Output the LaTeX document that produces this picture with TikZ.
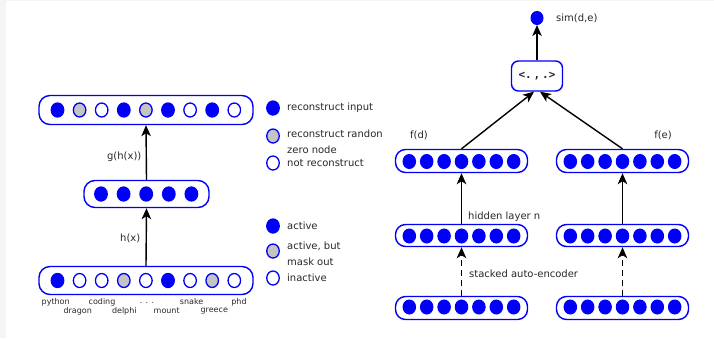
\documentclass[tikz,border=0pt]{standalone}
\usepackage{fontspec}
\setmainfont{DejaVu Sans}
\newfontfamily\monofont{DejaVu Sans Mono}
\usetikzlibrary{shapes.geometric,arrows.meta}
\definecolor{unitblue}{RGB}{0,0,250}
\definecolor{maskgrey}{RGB}{196,196,196}
\definecolor{labelgrey}{RGB}{40,40,40}
\begin{document}
\begin{tikzpicture}[x=1pt,y=-1pt,
  layer/.style={draw=unitblue,line width=1.4pt,fill=white,rounded corners=11pt,inner sep=0pt},
  unit/.style={ellipse,draw=unitblue,line width=1.3pt,inner sep=0pt,minimum width=12.5pt,minimum height=14pt},
  uon/.style={unit,fill=unitblue},
  ugrey/.style={unit,fill=maskgrey},
  uoff/.style={unit,fill=white},
  sunit/.style={ellipse,draw=unitblue,fill=unitblue,line width=1pt,inner sep=0pt,minimum width=12.5pt,minimum height=14pt},
  lbl/.style={text=labelgrey,font=\fontsize{10}{11}\selectfont,inner sep=0pt},
  word/.style={text=labelgrey,font=\fontsize{8}{9}\selectfont,inner sep=0pt},
  link/.style={draw=black,line width=1.4pt,-{Stealth[length=11pt,width=9.5pt,inset=3pt]}},
  dlink/.style={link,dash pattern=on 6pt off 4pt}]

% canvas
\useasboundingbox (0,0) rectangle (714,338);
\fill[white] (0,0) rectangle (714,338);
\fill[black!4] (0,0) rectangle (6,338);
\fill[black!4] (0,0) rectangle (714,1);

% ---------------- denoising auto-encoder ----------------
\node[layer,minimum width=214pt,minimum height=29pt] (outl) at (146,110) {};
\node[layer,minimum width=125pt,minimum height=27pt] (hidl) at (146.5,194) {};
\node[layer,minimum width=214pt,minimum height=28pt] (inl) at (146,280.5) {};

\foreach \s [count=\i from 0] in {uon,ugrey,uoff,uon,ugrey,uon,uoff,uon,uoff}
  \node[\s] (o\i) at (57.5+22.1*\i,110) {};
\foreach \i in {0,...,4}
  \node[uon] (h\i) at (101+22.6*\i,194) {};
\foreach \s [count=\i from 0] in {uon,uoff,uoff,ugrey,uoff,uon,uoff,ugrey,uoff}
  \node[\s] (x\i) at (57.5+22.1*\i,280.5) {};

\draw[link] (inl.north) -- (hidl.south);
\draw[link] (hidl.north) -- (outl.south);
\node[lbl,anchor=east] (hx) at (140.5,238) {h(x)};
\node[lbl,anchor=east] (ghx) at (141.5,157) {g(h(x))};

% input vocabulary
\node[word] (w1) at (55.7,302) {python};
\node[word] (w2) at (77.7,311) {dragon};
\node[word] (w3) at (102,302) {coding};
\node[word] (w4) at (124.3,311) {delphi};
\node[word] (w5) at (147,303) {. . .};
\node[word] (w6) at (166.7,311) {mount};
\node[word] (w7) at (191.7,302) {snake};
\node[word] (w8) at (214.3,311) {greece};
\node[word] (w9) at (239,302) {phd};

% legend
\node[uon] (k1) at (273,108) {};
\node[lbl,anchor=west] (t1) at (287,108) {reconstruct input};
\node[ugrey] (k2) at (273,136) {};
\node[lbl,anchor=west] (t2a) at (287,134) {reconstruct randon};
\node[lbl,anchor=west] (t2b) at (287,150) {zero node};
\node[uoff] (k3) at (273,163) {};
\node[lbl,anchor=west] (t3) at (287,163) {not reconstruct};

\node[uon] (k4) at (273,226) {};
\node[lbl,anchor=west] (t4) at (287,226) {active};
\node[ugrey] (k5) at (273,251) {};
\node[lbl,anchor=west] (t5a) at (287,246) {active, but};
\node[lbl,anchor=west] (t5b) at (287,262) {mask out};
\node[uoff] (k6) at (273,278) {};
\node[lbl,anchor=west] (t6) at (287,278) {inactive};

% ---------------- similarity network ----------------
\node[sunit,minimum width=12pt,minimum height=13pt] (sim) at (537,18) {};
\node[lbl,anchor=west] (simt) at (556,18) {sim(d,e)};
\node[layer,rounded corners=7pt,minimum width=51pt,minimum height=30pt,
      font=\monofont\bfseries\fontsize{11}{12}\selectfont,text=labelgrey] (dot) at (537,76) {<.\,,\,.>};
\draw[link] (dot.north) -- (sim.south);

\foreach \c/\xc in {d/461.5,e/622.5}{
  \node[layer,rounded corners=10pt,minimum width=132pt,minimum height=23pt] (top\c) at (\xc,161) {};
  \node[layer,rounded corners=10pt,minimum width=132pt,minimum height=22pt] (mid\c) at (\xc,235.5) {};
  \node[layer,rounded corners=10pt,minimum width=132pt,minimum height=23pt] (bot\c) at (\xc,308) {};
  \foreach \i in {0,...,6}{
    \node[sunit] (top\c\i) at (\xc-52.2+17.4*\i,161.5) {};
    \node[sunit] (mid\c\i) at (\xc-52.2+17.4*\i,236) {};
    \node[sunit] (bot\c\i) at (\xc-52.2+17.4*\i,307) {};
  }
  \draw[link] (mid\c.north) -- (top\c.south);
  \draw[dlink] (bot\c.north) -- (mid\c.south);
}
\draw[link] (topd.north) -- ([xshift=-3pt]dot.south);
\draw[link] (tope.north) -- ([xshift=3pt]dot.south);

\node[lbl] (fd) at (419,135) {f(d)};
\node[lbl] (fe) at (663,135) {f(e)};
\node[lbl,anchor=west] (hl) at (468,217) {hidden layer n};
\node[lbl,anchor=west] (sae) at (469,273.5) {stacked auto-encoder};
\end{tikzpicture}
\end{document}
